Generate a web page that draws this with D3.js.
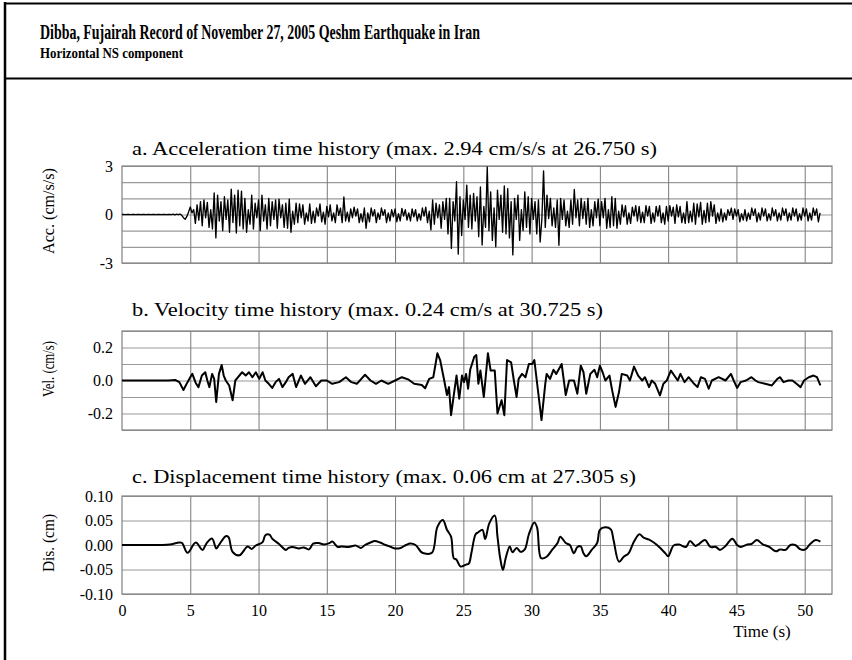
<!DOCTYPE html>
<html>
<head>
<meta charset="utf-8">
<script src="https://cdn.jsdelivr.net/npm/d3@7"></script>
<style>
  body { margin: 0; background: #fff; }
  svg { display: block; }
  text { font-family: "Liberation Serif", "Times New Roman", serif; fill: #000; }
</style>
</head>
<body>
<svg id="chart" width="852" height="660"></svg>
<script>
// ---- Text ----
const headerTitle = "Dibba, Fujairah Record of November 27, 2005 Qeshm Earthquake in Iran";
const headerSubtitle = "Horizontal NS component";
const panelTitles = [
  "a. Acceleration time history (max. 2.94 cm/s/s at 26.750 s)",
  "b. Velocity time history (max. 0.24 cm/s at 30.725 s)",
  "c. Displacement time history (max. 0.06 cm at 27.305 s)"
];
const axisTitles = ["Acc. (cm/s/s)", "Vel. (cm/s)", "Dis. (cm)"];
const timeTitle = "Time (s)";

// ---- Time axis ----
const timeDomain = [0, 52];
const timeTicks = [0, 5, 10, 15, 20, 25, 30, 35, 40, 45, 50];

// ---- Value axes: grid lines and labelled ticks ----
const accDomain = [-3, 3];
const accGrid = [-3, -2, -1, 0, 1, 2, 3];
const accLabels = [-3, 0, 3];
const velDomain = [-0.3, 0.3];
const velGrid = [-0.3, -0.2, -0.1, 0, 0.1, 0.2, 0.3];
const velLabels = [-0.2, 0, 0.2];
const disDomain = [-0.1, 0.1];
const disGrid = [-0.1, -0.05, 0, 0.05, 0.1];
const disLabels = [-0.1, -0.05, 0, 0.05, 0.1];

// ---- Acceleration (cm/s/s), sampled every 0.125 s from t = 0 ----
const accStep = 0.125;
const accValues = [
  0, 0.01, -0.01, 0, 0.01, -0.01, 0, 0.01,
  -0.01, 0, 0.01, -0.01, 0, 0.01, -0.01, 0,
  0.01, -0.01, 0, 0.01, -0.01, 0, 0.01, -0.01,
  0, 0.01, -0.01, 0, 0.01, -0.01, 0.02, -0.02,
  0.02, -0.01, 0.03, -0.05, -0.2, -0.3, -0.12, 0.15,
  0.47, 0.1, 0.3, -0.55, 0.6, -0.35, 0.8, -0.7,
  0.9, -0.2, 0.75, -0.8, 0.3, -0.9, 1.33, -1.45,
  1.2, -0.4, 0.8, -1.0, 1.1, -0.3, 0.9, -1.1,
  1.57, -0.5, 1.2, -1.15, 1.5, -0.7, 1.45, -0.9,
  1.0, -1.1, 0.3, -0.6, 1.2, -0.9, 0.7, -0.2,
  0.9, -1.0, 1.2, -0.4, 0.6, -0.9, 1.0, -0.7,
  0.8, -0.3, 0.9, -0.85, 0.95, -0.2, 0.6, -0.8,
  0.7, -0.85, 0.95, -1.1, 0.2, -0.6, 0.7, -0.5,
  0.65, -0.2, 0.6, -0.6, 0.1, -0.4, 0.65, -0.55,
  0.2, -0.5, 0.4, -0.1, 0.65, -0.45, 0.15, -0.6,
  0.5, -0.15, 0.6, -0.4, 0.1, -0.5, 0.6, -0.05,
  0.4, -0.5, 1.08, -0.4, 0.15, -0.45, 0.35, -0.2,
  0.45, -0.1, 0.35, -0.5, 0.05, -0.45, 0.4, -0.85,
  0.1, -0.45, 0.4, -0.1, 0.3, -0.5, 0.1, -0.3,
  0.4, -0.05, 0.3, -0.5, 0.1, -0.4, 0.3, -0.15,
  0.35, -0.45, 0.05, -0.4, 0.38, -0.1, 0.3, -0.35,
  0.1, -0.4, 0.35, -0.15, 0.3, -0.4, 0.05, -0.35,
  0.4, -0.1, 0.45, -0.5, 0.2, -0.95, 0.9, -0.6,
  0.7, -0.2, 0.6, -0.85, 0.8, -0.3, 1.0, -1.2,
  1.0, -2.1, 0.8, -0.4, 2.03, -2.45, 1.1, -1.3,
  0.9, -0.3, 1.82, -0.8, 1.2, -0.9, 1.3, -0.4,
  1.1, -1.37, 1.7, -1.89, 0.5, -0.8, 2.94, -1.0,
  1.4, -1.6, 0.4, -2.0, 1.5, -0.3, 1.2, -1.1,
  1.76, -1.2, 1.6, -1.45, 0.8, -2.5, 1.0, -0.3,
  1.2, -1.6, 0.3, -1.0, 1.4, -0.8, 1.1, -1.2,
  1.0, -0.3, 0.8, -1.2, 0.9, -1.7, -0.3, 2.7,
  -0.8, 1.2, -0.25, 1.0, -0.7, 0.4, -0.8, 0.9,
  -1.9, 1.0, -0.3, 0.9, -0.7, 0.2, -0.8, 0.9,
  -0.6, 1.55, -0.2, 0.9, -0.7, 1.0, -0.25, 0.8,
  -0.6, 1.0, -0.8, 0.3, -0.7, 0.8, -0.2, 0.95,
  -0.7, 0.8, -0.2, 1.0, -0.85, 0.3, -0.8, 1.1,
  -0.7, 1.0, -0.85, 0.2, -0.6, 0.6, -0.15, 0.55,
  -0.6, 0.1, -0.55, 0.45, -0.1, 0.55, -0.4, 0.5,
  -0.5, 0.15, -0.5, 0.55, -0.1, 0.5, -0.55, 0.1,
  -0.45, 0.5, -0.1, 0.55, -0.5, 0.1, -0.6, 0.5,
  -0.4, 0.55, -0.1, 0.45, -0.55, 0.6, -0.15, 0.5,
  -0.5, 0.1, -0.55, 0.8, -0.5, 0.2, -0.45, 0.7,
  -0.6, 0.65, -0.15, 0.75, -0.6, 0.25, -0.5, 0.7,
  -0.45, 0.8, -0.1, 0.6, -0.55, 0.1, -0.4, 0.35,
  -0.45, 0.1, -0.35, 0.3, -0.05, 0.4, -0.3, 0.35,
  -0.1, 0.3, -0.45, 0.05, -0.35, 0.3, -0.4, 0.1,
  -0.3, 0.4, -0.05, 0.35, -0.45, 0.1, -0.35, 0.4,
  -0.1, 0.35, -0.4, 0.05, -0.35, 0.4, -0.1, 0.3,
  -0.4, 0.1, -0.35, 0.4, -0.05, 0.35, -0.4, 0.1,
  -0.35, 0.4, -0.1, 0.35, -0.4, 0.05, -0.35, 0.4,
  -0.1, 0.35, -0.4, 0.1, -0.35, 0.4, -0.05, 0.35,
  -0.45, 0.1
];

// ---- Velocity (cm/s): [time s, value] ----
const velSamples = [
  [0, 0], [3.4, 0], [3.9, 0.003], [4.2, -0.01], [4.5, -0.058], [4.8, -0.01], [5.0, 0.02],
  [5.15, 0.04], [5.4, -0.015], [5.6, -0.04], [5.85, 0.03], [6.1, 0.05], [6.25, 0.0],
  [6.4, -0.04], [6.6, 0.04], [6.75, 0.01], [6.9, -0.13], [7.1, 0.04], [7.3, 0.094],
  [7.45, 0.03], [7.6, 0.0], [7.85, -0.03], [8.1, -0.12], [8.3, 0.0], [8.5, 0.02],
  [8.8, 0.05], [9.06, 0.03], [9.3, 0.05], [9.55, 0.02], [9.8, 0.05], [10.05, 0.01],
  [10.3, 0.05], [10.5, 0.0], [10.75, -0.02], [11.0, -0.045], [11.25, -0.01], [11.5, 0.01],
  [11.75, -0.04], [12.0, -0.01], [12.2, 0.02], [12.5, 0.04], [12.75, -0.04], [13.1, 0.03],
  [13.4, -0.02], [13.8, 0.02], [14.2, -0.035], [14.6, 0.0], [15.0, 0.0], [15.4, -0.02],
  [15.9, -0.01], [16.4, 0.02], [16.8, -0.01], [17.2, -0.02], [17.8, 0.035], [18.2, 0.0],
  [18.6, -0.02], [19.0, 0.0], [19.5, -0.02], [20.0, 0.0], [20.5, 0.02], [21.0, 0.005],
  [21.4, -0.02], [21.96, -0.027], [22.2, -0.047], [22.5, 0.01], [22.8, 0.02], [23.1, 0.165],
  [23.3, 0.124], [23.6, 0.0], [23.8, -0.088], [23.95, -0.04], [24.1, -0.21], [24.3, -0.088],
  [24.5, 0.03], [24.7, -0.11], [24.9, 0.03], [25.05, -0.01], [25.2, 0.04], [25.35, -0.05],
  [25.5, 0.065], [25.8, 0.144], [25.95, 0.154], [26.1, -0.02], [26.25, 0.06], [26.5, -0.1],
  [26.8, 0.165], [27.0, 0.06], [27.3, 0.06], [27.5, -0.2], [27.8, -0.12], [28.0, -0.21],
  [28.2, 0.124], [28.5, 0.11], [28.7, 0.0], [28.9, -0.1], [29.05, 0.01], [29.3, 0.04],
  [29.55, 0.02], [29.8, 0.1], [30.04, 0.1], [30.2, 0.124], [30.45, -0.05], [30.725, -0.24],
  [31.0, -0.02], [31.1, 0.04], [31.35, 0.01], [31.6, 0.065], [31.8, 0.04], [32.2, 0.1],
  [32.5, -0.088], [32.75, 0.0], [33.1, 0.0], [33.35, -0.08], [33.6, 0.09], [33.8, 0.05],
  [34.0, -0.08], [34.3, 0.04], [34.6, 0.065], [34.8, 0.02], [35.0, 0.09], [35.2, 0.05],
  [35.4, 0.0], [35.7, 0.03], [35.9, -0.06], [36.15, -0.16], [36.4, -0.07], [36.6, 0.04],
  [37.0, 0.03], [37.2, 0.0], [37.5, 0.084], [37.8, 0.03], [38.1, 0.0], [38.3, 0.02],
  [38.6, -0.04], [38.8, 0.0], [39.05, -0.02], [39.4, -0.09], [39.65, -0.02], [39.9, 0.0],
  [40.2, 0.06], [40.45, 0.03], [40.7, 0.0], [40.9, 0.04], [41.2, -0.01], [41.5, 0.02],
  [41.9, -0.02], [42.15, -0.04], [42.4, 0.02], [42.7, 0.01], [42.97, -0.05], [43.2, 0.0],
  [43.7, 0.02], [44.2, 0.0], [44.6, 0.04], [44.8, 0.0], [45.05, -0.045], [45.3, -0.01],
  [45.7, 0.0], [46.1, 0.02], [46.4, 0.0], [46.6, -0.01], [47.1, -0.02], [47.6, -0.03],
  [48.0, 0.01], [48.2, 0.02], [48.45, -0.01], [48.8, 0.0], [49.1, 0.0], [49.4, -0.02],
  [49.7, -0.04], [49.95, 0.0], [50.3, 0.02], [50.65, 0.03], [50.9, 0.02], [51.15, -0.03]
];

// ---- Displacement (cm): [time s, value] ----
const disSamples = [
  [0, 0], [2.9, 0], [3.5, 0.001], [4.2, 0.005], [4.4, 0.004], [4.8, -0.016], [5.4, 0.005],
  [5.9, -0.01], [6.2, 0.004], [6.6, 0.013], [6.9, -0.007], [7.1, 0.0], [7.6, 0.018],
  [7.8, 0.016], [8.1, -0.014], [8.6, -0.021], [9.2, -0.003], [9.5, -0.008], [9.8, -0.001],
  [10.3, 0.006], [10.5, 0.02], [10.8, 0.021], [11.0, 0.013], [11.5, 0.002], [12.0, -0.01],
  [12.2, -0.006], [12.5, -0.004], [12.96, -0.007], [13.3, -0.005], [13.7, -0.009], [14.0, 0.003],
  [14.4, 0.004], [14.8, 0.001], [15.2, 0.004], [15.4, 0.007], [15.8, -0.004], [16.1, -0.003],
  [16.6, -0.004], [17.1, -0.001], [17.5, -0.006], [17.8, 0.0], [18.2, 0.005], [18.5, 0.008],
  [18.9, 0.005], [19.3, 0.0], [19.7, -0.004], [20.0, -0.007], [20.4, -0.006], [20.8, 0.0],
  [21.1, 0.003], [21.5, 0.0], [21.9, -0.014], [22.1, -0.017], [22.7, -0.016], [23.1, 0.037],
  [23.5, 0.051], [23.8, 0.031], [24.1, 0.017], [24.3, -0.027], [24.5, -0.03], [24.8, -0.044],
  [25.2, -0.04], [25.4, -0.038], [25.6, -0.015], [25.9, 0.022], [26.1, 0.026], [26.4, 0.031],
  [26.6, 0.012], [26.9, 0.044], [27.305, 0.06], [27.5, 0.017], [27.7, -0.027], [27.9, -0.051],
  [28.1, -0.027], [28.4, -0.003], [28.6, -0.015], [28.9, -0.006], [29.2, -0.014], [29.5, -0.009],
  [29.8, 0.022], [30.2, 0.046], [30.4, 0.036], [30.7, -0.027], [31.1, -0.024], [31.5, -0.01],
  [31.9, 0.004], [32.1, 0.017], [32.5, 0.004], [32.8, 0.0], [33.1, -0.017], [33.35, -0.004],
  [33.6, -0.003], [33.8, -0.017], [34.0, -0.023], [34.4, -0.01], [34.8, 0.004], [35.0, 0.031],
  [35.4, 0.036], [35.8, 0.032], [36.0, 0.01], [36.4, -0.034], [36.75, -0.024], [37.1, -0.017],
  [37.5, 0.007], [37.9, 0.022], [38.2, 0.015], [38.6, 0.011], [39.0, 0.004], [39.3, -0.003],
  [39.8, -0.017], [40.0, -0.023], [40.4, -0.001], [40.8, 0.001], [41.3, -0.004], [41.6, 0.008],
  [42.0, -0.002], [42.3, 0.003], [42.7, 0.01], [43.1, -0.004], [43.5, -0.004], [43.8, -0.01],
  [44.2, -0.002], [44.7, 0.013], [45.05, 0.0], [45.3, -0.004], [45.8, 0.001], [46.1, 0.002],
  [46.5, 0.01], [46.9, 0.002], [47.4, -0.004], [47.9, -0.013], [48.2, -0.009], [48.6, -0.01],
  [48.95, 0.0], [49.3, 0.0], [49.7, -0.009], [50.05, -0.009], [50.4, 0.002], [50.8, 0.01],
  [51.15, 0.007]
];

// ---- Drawing ----
const svg = d3.select("#chart");
const hyphenLocale = d3.formatLocale({ decimal: ".", thousands: ",", grouping: [3], currency: ["", ""], minus: "-" });
const serif = "'Liberation Serif', 'Times New Roman', serif";

// Page frame and header box
svg.append("line").attr("x1", 5).attr("y1", 2).attr("x2", 5).attr("y2", 660)
  .attr("stroke", "#000").attr("stroke-width", 2.5);
svg.append("line").attr("x1", 4).attr("y1", 3.5).attr("x2", 852).attr("y2", 3.5)
  .attr("stroke", "#000").attr("stroke-width", 2);
svg.append("line").attr("x1", 4).attr("y1", 78.5).attr("x2", 852).attr("y2", 78.5)
  .attr("stroke", "#000").attr("stroke-width", 2);

svg.append("text").attr("x", 40).attr("y", 39)
  .attr("font-size", 20).attr("font-weight", "bold")
  .attr("textLength", 440).attr("lengthAdjust", "spacingAndGlyphs")
  .text(headerTitle);
svg.append("text").attr("x", 40).attr("y", 57.5)
  .attr("font-size", 15).attr("font-weight", "bold")
  .attr("textLength", 143).attr("lengthAdjust", "spacingAndGlyphs")
  .text(headerSubtitle);

const x = d3.scaleLinear().domain(timeDomain).range([122, 832]);

const accPoints = accValues.map((v, i) => [i * accStep, v]);

const panels = [
  { title: panelTitles[0], titleY: 155, titleLen: 525, top: 166, bottom: 263,
    domain: accDomain, grid: accGrid, labels: accLabels, fmt: hyphenLocale.format("d"),
    yTitle: axisTitles[0], yTitleY: 211, yTitleLen: 86,
    points: accPoints, lineWidth: 1.35, curve: d3.curveLinear },
  { title: panelTitles[1], titleY: 316, titleLen: 471, top: 331, bottom: 430,
    domain: velDomain, grid: velGrid, labels: velLabels, fmt: hyphenLocale.format(".1f"),
    yTitle: axisTitles[1], yTitleY: 369, yTitleLen: 56,
    points: velSamples, lineWidth: 2, curve: d3.curveLinear },
  { title: panelTitles[2], titleY: 483, titleLen: 504, top: 496, bottom: 594,
    domain: disDomain, grid: disGrid, labels: disLabels, fmt: hyphenLocale.format(".2f"),
    yTitle: axisTitles[2], yTitleY: 543, yTitleLen: 58,
    points: disSamples, lineWidth: 2, curve: d3.curveCatmullRom.alpha(0.5) }
];

panels.forEach((p, idx) => {
  const y = d3.scaleLinear().domain(p.domain).range([p.bottom, p.top]);
  const g = svg.append("g");
  const left = x.range()[0], right = x.range()[1];

  // horizontal grid
  g.append("g").attr("transform", `translate(${left},0)`)
    .call(d3.axisLeft(y).tickValues(p.grid).tickSize(-(right - left)).tickFormat(""))
    .call(a => a.select(".domain").remove())
    .call(a => a.selectAll("line").attr("stroke", "#9a9a9a").attr("stroke-width", 1.2));

  // vertical grid
  g.append("g").attr("transform", `translate(0,${p.bottom})`)
    .call(d3.axisBottom(x).tickValues(timeTicks.filter(t => t > 0)).tickSize(-(p.bottom - p.top)).tickFormat(""))
    .call(a => a.select(".domain").remove())
    .call(a => a.selectAll("line").attr("stroke", "#7a7a7a").attr("stroke-width", 1));

  // plot border
  g.append("rect").attr("x", left).attr("y", p.top)
    .attr("width", right - left).attr("height", p.bottom - p.top)
    .attr("fill", "none").attr("stroke", "#808080").attr("stroke-width", 1.2);

  // series
  const line = d3.line().x(d => x(d[0])).y(d => y(d[1])).curve(p.curve);
  g.append("path").datum(p.points).attr("d", line)
    .attr("fill", "none").attr("stroke", "#000")
    .attr("stroke-width", p.lineWidth).attr("stroke-linejoin", "round");

  // value labels
  g.append("g").attr("transform", `translate(${left},0)`)
    .call(d3.axisLeft(y).tickValues(p.labels).tickSize(0).tickPadding(9).tickFormat(p.fmt))
    .call(a => a.select(".domain").remove())
    .call(a => a.selectAll("text").attr("font-size", 16)
      .attr("font-family", serif).attr("fill", "#000"));

  // axis title
  g.append("text")
    .attr("transform", `translate(54,${p.yTitleY}) rotate(-90)`)
    .attr("text-anchor", "middle").attr("font-size", 16)
    .attr("textLength", p.yTitleLen).attr("lengthAdjust", "spacingAndGlyphs")
    .text(p.yTitle);

  // panel title
  g.append("text").attr("x", 132).attr("y", p.titleY)
    .attr("font-size", 19)
    .attr("textLength", p.titleLen).attr("lengthAdjust", "spacingAndGlyphs")
    .text(p.title);

  // time labels under the last panel
  if (idx === panels.length - 1) {
    g.append("g").attr("transform", `translate(0,${p.bottom})`)
      .call(d3.axisBottom(x).tickValues(timeTicks).tickSize(0).tickPadding(11).tickFormat(d3.format("d")))
      .call(a => a.select(".domain").remove())
      .call(a => a.selectAll("text").attr("font-size", 16)
        .attr("font-family", serif).attr("fill", "#000"));
    g.append("text").attr("x", 762).attr("y", 637)
      .attr("text-anchor", "middle").attr("font-size", 17)
      .text(timeTitle);
  }
});
</script>
</body>
</html>
